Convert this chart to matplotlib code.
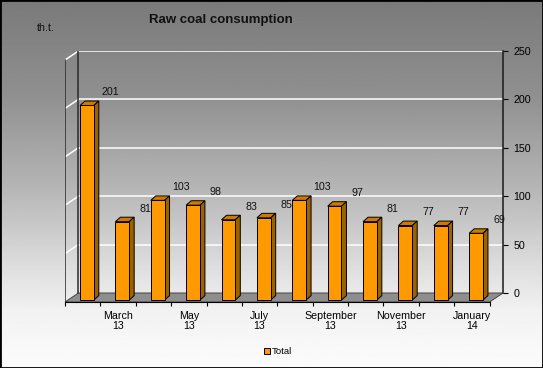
import numpy as np
import matplotlib
matplotlib.use("Agg")
import matplotlib.pyplot as plt
from matplotlib.patches import Polygon, Rectangle

plt.rcParams['font.family'] = ['Liberation Sans', 'DejaVu Sans']

# data
months = ["February\n13", "March\n13", "April\n13", "May\n13", "June\n13", "July\n13",
          "August\n13", "September\n13", "October\n13", "November\n13", "December\n13", "January\n14"]
values = [201, 81, 103, 98, 83, 85, 103, 97, 81, 77, 77, 69]
yticks = [0, 50, 100, 150, 200, 250]
title = "Raw coal consumption"
unit = "th.t."
series_name = "Total"

# 3d look (data units)
DX, DY = 0.38, 9.3        # depth of the box
BX, BY = 0.12, 2.0        # bar front face offset into the box
BDX, BDY = 0.14, 4.6      # bar depth
W = 0.39
YMAX = 250
FS = 7.7

FRONT = "#ff9900"
SIDE = "#9c6200"
TOP = "#cc7a00"

fig = plt.figure(figsize=(5.43, 3.68), dpi=100)

# background gradient
bg = fig.add_axes([0, 0, 1, 1], zorder=-1)
rows = np.linspace(0, 1, 200)
shade = np.interp(rows, [0, 0.25, 0.5, 0.75, 0.85, 1.0], [122, 143, 180, 226, 242, 252]) / 255
bg.imshow(shade[:, None], cmap="gray", vmin=0, vmax=1, aspect="auto", extent=(0, 1, 0, 1))
bg.axis("off")

ax = fig.add_axes([65 / 543, 66 / 368, 438 / 543, 251 / 368])
ax.set_facecolor("none")
n = len(values)
x = np.arange(n)
x0, x1 = -0.5, n - 0.5

# floor
floor = Polygon([(x0, 0), (x1, 0), (x1 + DX, DY), (x0 + DX, DY)], closed=True,
                facecolor="#8e8e8e", edgecolor="#444444", lw=0.7, zorder=1)
ax.add_patch(floor)

# gridlines on back wall and left wall
for v in yticks[1:]:
    ax.plot([x0 + DX, x1 + DX], [v + DY, v + DY], color="white", lw=1.1, zorder=1)
    ax.plot([x0, x0 + DX], [v, v + DY], color="white", lw=1.1, zorder=1)

# left wall edges
ax.plot([x0, x0], [0, YMAX], color="#2a2a2a", lw=1.1, zorder=2)
ax.plot([x0 + DX, x0 + DX], [DY, YMAX + DY], color="#2a2a2a", lw=1.1, zorder=2)

# bars
bars = ax.bar(x + BX, values, width=W, bottom=BY, color=FRONT, edgecolor="black",
              lw=0.7, zorder=4, label=series_name)
for xi, v in zip(x, values):
    l, r = xi + BX - W / 2, xi + BX + W / 2
    top = Polygon([(l, v + BY), (r, v + BY), (r + BDX, v + BY + BDY), (l + BDX, v + BY + BDY)],
                  closed=True, facecolor=TOP, edgecolor="black", lw=0.7, zorder=3)
    side = Polygon([(r, BY), (r, v + BY), (r + BDX, v + BY + BDY), (r + BDX, BY + BDY)],
                   closed=True, facecolor=SIDE, edgecolor="black", lw=0.7, zorder=3)
    ax.add_patch(top)
    ax.add_patch(side)
    ax.annotate(str(v), (xi + BX, v + BY), xytext=(16.5, 9.4), textcoords="offset points",
                ha="center", va="center", fontsize=FS, color="#111111", zorder=5)

ax.set_xlim(x0, x1 + DX)
ax.set_ylim(0, YMAX + DY)

for s in ["top", "left", "right"]:
    ax.spines[s].set_visible(False)
ax.spines["bottom"].set_bounds(x0, x1)
ax.spines["bottom"].set_color("black")
ax.set_yticks([])
ax.set_xticks(x[1::2])
ax.set_xticklabels(months[1::2], fontsize=FS, linespacing=1.0)
ax.set_xticks(np.arange(x0, x1 + 0.01, 1), minor=True)
ax.tick_params(axis="x", which="major", length=0, pad=6.2)
ax.tick_params(axis="x", which="minor", length=3, width=0.8, color="black")

# value axis on the back right edge
ax2 = ax.twinx()
ax2.set_ylim(-DY, YMAX)
for s in ["top", "left", "bottom"]:
    ax2.spines[s].set_visible(False)
ax2.spines["right"].set_bounds(0, YMAX)
ax2.spines["right"].set_color("#1a1a1a")
ax2.spines["right"].set_linewidth(1.1)
ax2.set_yticks(yticks)
ax2.tick_params(axis="y", length=3.6, width=0.8, pad=4, labelsize=FS)

fig.text(220.5 / 543, 1 - 19.5 / 368, title, fontsize=9.5, fontweight="bold",
         ha="center", va="center", color="#111111")
fig.text(45.5 / 543, 1 - 28 / 368, unit, fontsize=FS, ha="center", va="center", color="#111111")

fig.legend(handles=[bars], labels=[series_name], loc="center",
           bbox_to_anchor=(278 / 543, 1 - 352 / 368), frameon=False, fontsize=6.8,
           handlelength=0.6, handleheight=0.6, handletextpad=0.2)

fig.add_artist(Rectangle((0, 0), 1, 1, transform=fig.transFigure, fill=False,
                         edgecolor="black", lw=2))

fig.savefig("out.png", dpi=100)
